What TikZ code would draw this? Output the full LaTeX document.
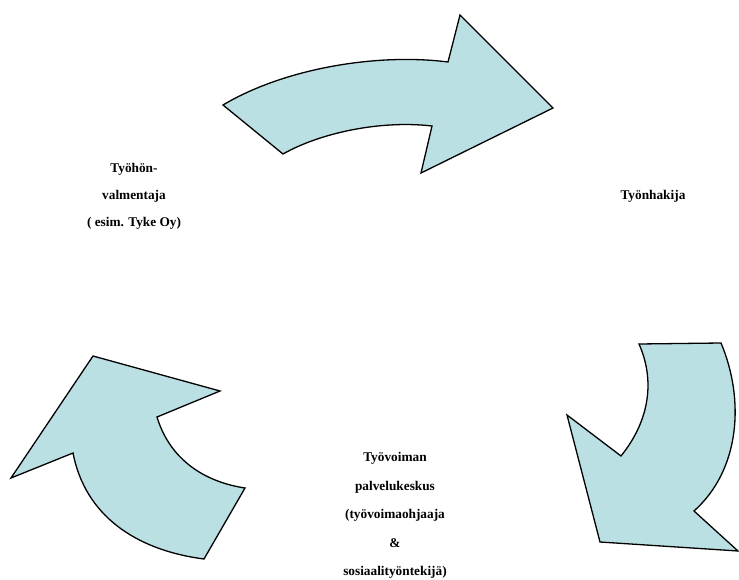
\documentclass[tikz,border=0pt]{standalone}
\usepackage{fontspec}
\setmainfont{Liberation Serif}
\definecolor{arrowfill}{RGB}{187,224,227}
\begin{document}
\begin{tikzpicture}[x=1pt,y=-1pt,
  bigarrow/.style={fill=arrowfill,draw=black,line width=1.3pt,line join=miter},
  lbl/.style={font=\bfseries\fontsize{13.3}{27}\selectfont,align=center,inner sep=0pt},
  lblb/.style={font=\bfseries\fontsize{13.3}{28.5}\selectfont,align=center,inner sep=0pt}]
\useasboundingbox (0,0) rectangle (739,580);
% top arrow
\draw[bigarrow] (223,105) .. controls (285,68) and (378,53) .. (448,62) -- (460,15) -- (553,108)
  -- (421,173) -- (432,126) .. controls (380,120) and (320,133) .. (283,154) -- cycle;
% right arrow
\draw[bigarrow] (639,344) -- (721,343) .. controls (745,400) and (740,470) .. (694,511)
  -- (738,551) -- (600,542) -- (567,415) -- (621,456) .. controls (650,420) and (655,380) .. (639,344) -- cycle;
% left arrow
\draw[bigarrow] (93,356) -- (220,391) -- (157,417) .. controls (170,460) and (205,482) .. (245,488)
  -- (204,559) .. controls (135,550) and (85,515) .. (73,453) -- (11,478) -- cycle;
% labels
\node[lbl] (hakija) at (653,196) {Työnhakija};
\node[lbl,anchor=base] (valm) at (134,226) {Työhön-\\valmentaja\\( esim. Tyke Oy)};
\node[lblb,anchor=base] (tpk) at (395,575.5) {Työvoiman\\palvelukeskus\\(työvoimaohjaaja\\\&\\sosiaalityöntekijä)};
\end{tikzpicture}
\end{document}
